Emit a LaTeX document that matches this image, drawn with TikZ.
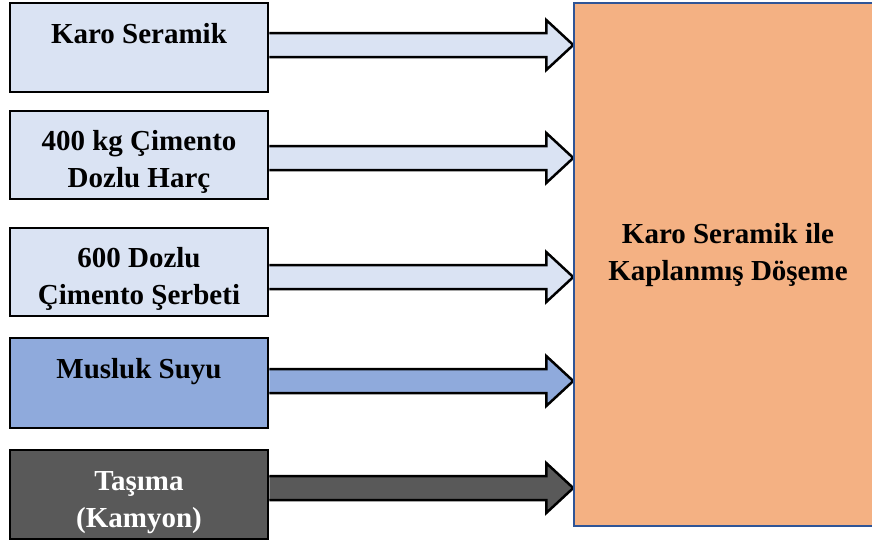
\documentclass[tikz,border=0pt]{standalone}
\usepackage{fontspec}
\setmainfont{Liberation Serif}
\usetikzlibrary{calc,backgrounds}

\definecolor{paleblue}{HTML}{DAE3F3}
\definecolor{midblue}{HTML}{8FAADC}
\definecolor{darkgrey}{HTML}{595959}
\definecolor{peach}{HTML}{F4B183}
\definecolor{edgeblue}{HTML}{2F5597}

\newcommand\boxfont{\fontsize{29}{37}\selectfont\bfseries}
% tall strut on the first line pushes the text block a little lower
\newcommand\topstrut{\rule{0pt}{40pt}}

% block arrow from a start point (on a box edge) to a tip point
\newcommand\feedarrow[3]{%
  \fill[#1] ($(#2)+(0,-12)$) -- ($(#3)+(-27,-12)$) -- ($(#3)+(-27,-25)$) -- (#3)
    -- ($(#3)+(-27,25)$) -- ($(#3)+(-27,12)$) -- ($(#2)+(0,12)$) -- cycle;
  \draw[arrowline] ($(#2)+(0,-12)$) -- ($(#3)+(-27,-12)$) -- ($(#3)+(-27,-25)$) -- (#3)
    -- ($(#3)+(-27,25)$) -- ($(#3)+(-27,12)$) -- ($(#2)+(0,12)$);
}

\tikzset{
  inbox/.style={draw=black, line width=2.5pt, minimum width=258pt,
    minimum height=89pt, inner sep=0pt, align=center, font=\boxfont},
  resultbox/.style={draw=edgeblue, fill=peach, line width=1.5pt, inner sep=0pt},
  arrowline/.style={draw=black, line width=2.5pt, line join=miter},
}

\begin{document}
\begin{tikzpicture}[x=1pt,y=-1pt]
  \useasboundingbox (0,0) rectangle (872,542);

  % result block (runs past the right edge)
  \node[resultbox, minimum width=308pt, minimum height=523pt] (tgt) at (728,264.5) {};
  \node[font=\boxfont, align=center, inner sep=0pt] (tgtlabel) at (728,255)
    {\strut Karo Seramik ile\\\strut Kaplanmış Döşeme};

  % input blocks
  \node[inbox, fill=paleblue] (b1) at (139,47.5) {\topstrut Karo Seramik\\\strut};
  \node[inbox, fill=paleblue, minimum height=88pt] (b2) at (139,155)
    {\topstrut 400 kg Çimento\\\strut Dozlu Harç};
  \node[inbox, fill=paleblue, minimum height=88pt] (b3) at (139,272)
    {\topstrut 600 Dozlu\\\strut Çimento Şerbeti};
  \node[inbox, fill=midblue, minimum height=90pt] (b4) at (139,383)
    {\topstrut Musluk Suyu\\\strut};
  \node[inbox, fill=darkgrey, text=white] (b5) at (139,494.5)
    {\topstrut Taşıma\\\strut (Kamyon)};

  % arrow start points on the boxes and tips on the result block
  \path ([yshift=2.5pt]b1.east) coordinate (s1);
  \path ([yshift=-3pt]b2.east) coordinate (s2);
  \path ([yshift=-5pt]b3.east) coordinate (s3);
  \path ([yshift=2pt]b4.east) coordinate (s4);
  \path ([yshift=6.5pt]b5.east) coordinate (s5);
  \foreach \i in {1,...,5} { \coordinate (t\i) at (s\i -| tgt.west); }

  \begin{pgfonlayer}{background}
    \feedarrow{paleblue}{s1}{t1}
    \feedarrow{paleblue}{s2}{t2}
    \feedarrow{paleblue}{s3}{t3}
    \feedarrow{midblue}{s4}{t4}
    \feedarrow{darkgrey}{s5}{t5}
  \end{pgfonlayer}
\end{tikzpicture}
\end{document}
